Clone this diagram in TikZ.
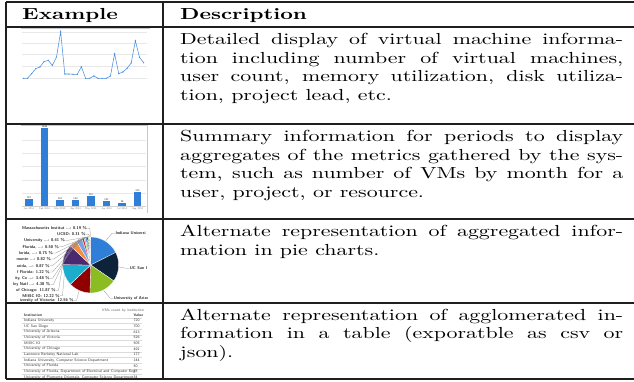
\documentclass[tikz,border=0pt]{standalone}
\usepackage{graphicx}
\definecolor{hcA}{HTML}{2F7ED8}
\definecolor{hcB}{HTML}{0D233A}
\definecolor{hcC}{HTML}{8BBC21}
\definecolor{hcD}{HTML}{910000}
\definecolor{hcE}{HTML}{1AADCE}
\definecolor{hcF}{HTML}{492970}
\definecolor{hcG}{HTML}{F28F43}
\definecolor{hcH}{HTML}{77A1E5}
\definecolor{hcI}{HTML}{C42525}
\definecolor{hcJ}{HTML}{A6C96A}
\definecolor{lineblue}{HTML}{4D8FE0}
\newcommand{\desctext}[1]{\scalebox{2.19}[1.6]{\parbox[t]{202.3pt}{\fontsize{10}{11.7}\selectfont #1}}}
\newcommand{\headtext}[1]{\scalebox{2.19}[1.6]{\fontsize{10}{11.7}\selectfont\bfseries #1}}
\begin{document}
\begin{tikzpicture}[x=1pt,y=-1pt,
  rule/.style={line width=1.1pt,draw=black!88},
  gridl/.style={draw=black!9,line width=0.4pt},
  edgel/.style={draw=black!22,line width=0.5pt},
  txt/.style={anchor=base west,inner sep=0pt},
  chartline/.style={draw=lineblue,line width=0.55pt},
  bartxt/.style={font=\sffamily\fontsize{2.6}{2.8}\selectfont,inner sep=0.2pt},
  pielbl/.style={font=\sffamily\bfseries\fontsize{4.1}{4.5}\selectfont,inner sep=0.3pt,text=black!85},
  conn/.style={draw=black!45,line width=0.25pt},
  tbl/.style={font=\sffamily\fontsize{3.8}{4.2}\selectfont,inner sep=0pt,anchor=west,text=black!80},
  tblb/.style={tbl,font=\sffamily\bfseries\fontsize{3.8}{4.2}\selectfont},
  tblsep/.style={draw=black!14,line width=0.3pt}]
\useasboundingbox (0,0) rectangle (634,381);
\fill[white] (0,0) rectangle (634,381);

% ---------- table rules ----------
\draw[rule] (6,2) -- (634,2);
\draw[rule] (6,27) -- (634,27);
\draw[rule] (6,124) -- (634,124);
\draw[rule] (6,219) -- (634,219);
\draw[rule] (6,303) -- (634,303);
\draw[rule] (6,379) -- (634,379);
\draw[rule] (6,2) -- (6,379);
\draw[rule] (163,2) -- (163,379);

% ---------- header ----------
\node[txt] (hEx) at (22,19.2) {\headtext{Example}};
\node[txt] (hDe) at (180,19.2) {\headtext{Description}};

% ---------- descriptions ----------
\node[txt] (d1) at (180,44.5) {\desctext{Detailed display of virtual machine informa-\linebreak tion including number of virtual machines,\linebreak user count, memory utilization, disk utiliza-\linebreak tion, project lead, etc.}};
\node[txt] (d2) at (180,141.5) {\desctext{Summary information for periods to display\linebreak aggregates of the metrics gathered by the sys-\linebreak tem, such as number of VMs by month for a\linebreak user, project, or resource.}};
\node[txt] (d3) at (180,236.5) {\desctext{Alternate representation of aggregated infor-\linebreak mation in pie charts.}};
\node[txt] (d4) at (180,320.2) {\desctext{Alternate representation of agglomerated in-\linebreak formation in a table (exporatble as csv or\linebreak json).}};

% ---------- example 1: line chart ----------
\draw[edgel] (21,28.5) -- (150,28.5);
\foreach \gy in {31.7,42.7,54.3,66.3,78.3} \draw[gridl] (22,\gy) -- (147,\gy);
\foreach \yy [count=\i from 0] in {78.3,78.3,73.7,68.7,67,61.7,60.3,65.3,57,31.7,74,74,74.3,74.3,66.7,78.3,78.3,76,78.3,78.3,78.3,76,53.7,73.7,72,68.3,63,40.7,57.3,62.7}
  {\coordinate (p\i) at ({23.3+4.15*\i},\yy);}
\draw[chartline] (p0) \foreach \i in {1,...,29} {-- (p\i)};
\foreach \i in {0,...,29} \fill[lineblue] (p\i) circle[radius=0.7];

% ---------- example 2: bar chart ----------
\draw[edgel] (21,125.5) -- (147.5,125.5);
\draw[edgel] (147.5,125.5) -- (147.5,213);
\foreach \gy in {139.7,153,166.3,179.7,193} \draw[gridl] (22,\gy) -- (146,\gy);
\draw[draw=black!18,line width=0.4pt] (22,206) -- (146,206);
\foreach \xa/\tp/\val/\lab [count=\k] in {25/199/152/{Jan 2014},40.7/128.3/1686/{Feb 2014},56/200.3/124/{Mar 2014},71.7/200/130/{Apr 2014},87/196.3/210/{May 2014},102.7/201.3/102/{Jun 2014},118.3/203.3/58/{Jul 2014},133.7/191.7/310/{Aug 2014}}
  {\fill[hcA] (\xa,\tp) rectangle ({\xa+7.7},206);
   \node[bartxt,anchor=south,text=black!80] (bv\k) at ({\xa+3.85},\tp) {\val};
   \node[bartxt,anchor=north,text=black!50] (bl\k) at ({\xa+3.85},207.3) {\lab};}

% ---------- example 3: pie chart ----------
\begin{scope}[shift={(90.7,265)},y=1pt]
  \foreach \a/\b/\c in {90/26.64/hcA,26.64/-34.56/hcB,-34.56/-91.51/hcC,-91.51/-136.73/hcD,-136.73/-180.72/hcE,-180.72/-223.45/hcF,-223.45/-239.22/hcG,-239.22/-251.75/hcH,-251.75/-256.14/hcI,-256.14/-259.27/hcJ,-259.27/-262.22/hcA,-262.22/-264.92/hcB,-264.92/-266.72/hcC,-266.72/-268.2/hcD,-268.2/-269.32/hcE,-269.32/-270/hcF}
    {\filldraw[fill=\c,draw=white,line width=0.3pt] (0,0) -- (\a:28) arc[start angle=\a,end angle=\b,radius=28] -- cycle;}
  \foreach \m [count=\k] in {90.34,91.24,92.54,94.18,96.43,99.25,102.29,106.06,114.5,128.66,157.9,201.3,245.9}
    {\coordinate (e\k) at (\m:28.4);}
  \coordinate (eR1) at (58.3:28.4);
  \coordinate (eR2) at (-4:28.4);
  \coordinate (eR3) at (-63:28.4);
\end{scope}
\begin{scope}
  \clip (8,221) rectangle (147,302.4);
  \foreach \xe/\ye/\t [count=\k] in {87.3/228.3/{Massachusetts Institut ...: 0.19 \%},86/234.3/{UCSD: 0.31 \%},65.3/240.3/{University ...: 0.41 \%},59.3/246.7/{Florida, ...: 0.50 \%},53.3/253/{lorida, ...: 0.75 \%},51.3/259/{monte ...: 0.82 \%},50/265.7/{orida, ...: 0.87 \%},50/272/{f Florida: 1.22 \%},50/278.3/{ity, Co ...: 3.48 \%},50.7/284.7/{ley Natl ...: 4.38 \%},56/290.4/{of Chicago: 11.87 \%},60/295.8/{MIISC IO: 12.22 \%},74/300.4/{iversity of Victoria: 12.56 \%}}
    {\node[pielbl,anchor=east] (pl\k) at (\xe,\ye) {\t};
     \draw[conn] (pl\k.east) -- ++(2.5,0) -- (e\k);}
  \node[pielbl,anchor=west] (pr1) at (115,233.3) {Indiana Universi};
  \node[pielbl,anchor=west] (pr2) at (129.3,268.3) {UC San I};
  \node[pielbl,anchor=west] (pr3) at (113.3,298.3) {University of Arizo};
  \draw[conn] (eR1) -- ([xshift=-3pt]pr1.west) -- (pr1.west);
  \draw[conn] (eR2) -- ([xshift=-3pt]pr2.west) -- (pr2.west);
  \draw[conn] (eR3) -- ([xshift=-3pt]pr3.west) -- (pr3.west);
\end{scope}

% ---------- example 4: data table ----------
\node[font=\sffamily\fontsize{3.8}{4.2}\selectfont,text=black!60,inner sep=0pt] (ttl) at (123,310.6) {VMs count by institution};
\node[tblb] (thI) at (24,314.8) {Institution};
\node[tblb] (thV) at (133.3,314.8) {Value};
\foreach \nm/\vv [count=\k from 0] in {{Indiana University}/720,{UC San Diego}/700,{University of Arizona}/613,{University of Victoria}/526,{MIISC IO}/505,{University of Chicago}/491,{Lawrence Berkeley National Lab}/177,{Indiana University, Computer Science Department}/144,{University of Florida}/50,{University of Florida, Department of Electrical and Computer Eng}/35,{University of Piemonte Orientale, Computer Science Department}/34}
  {\draw[tblsep] (22,{320.7+5.65*\k-2.85}) -- (142,{320.7+5.65*\k-2.85});
   \node[tbl] (tn\k) at (24,{320.7+5.65*\k}) {\nm};
   \node[tbl] (tv\k) at (133.3,{320.7+5.65*\k}) {\vv};}
\end{tikzpicture}
\end{document}
